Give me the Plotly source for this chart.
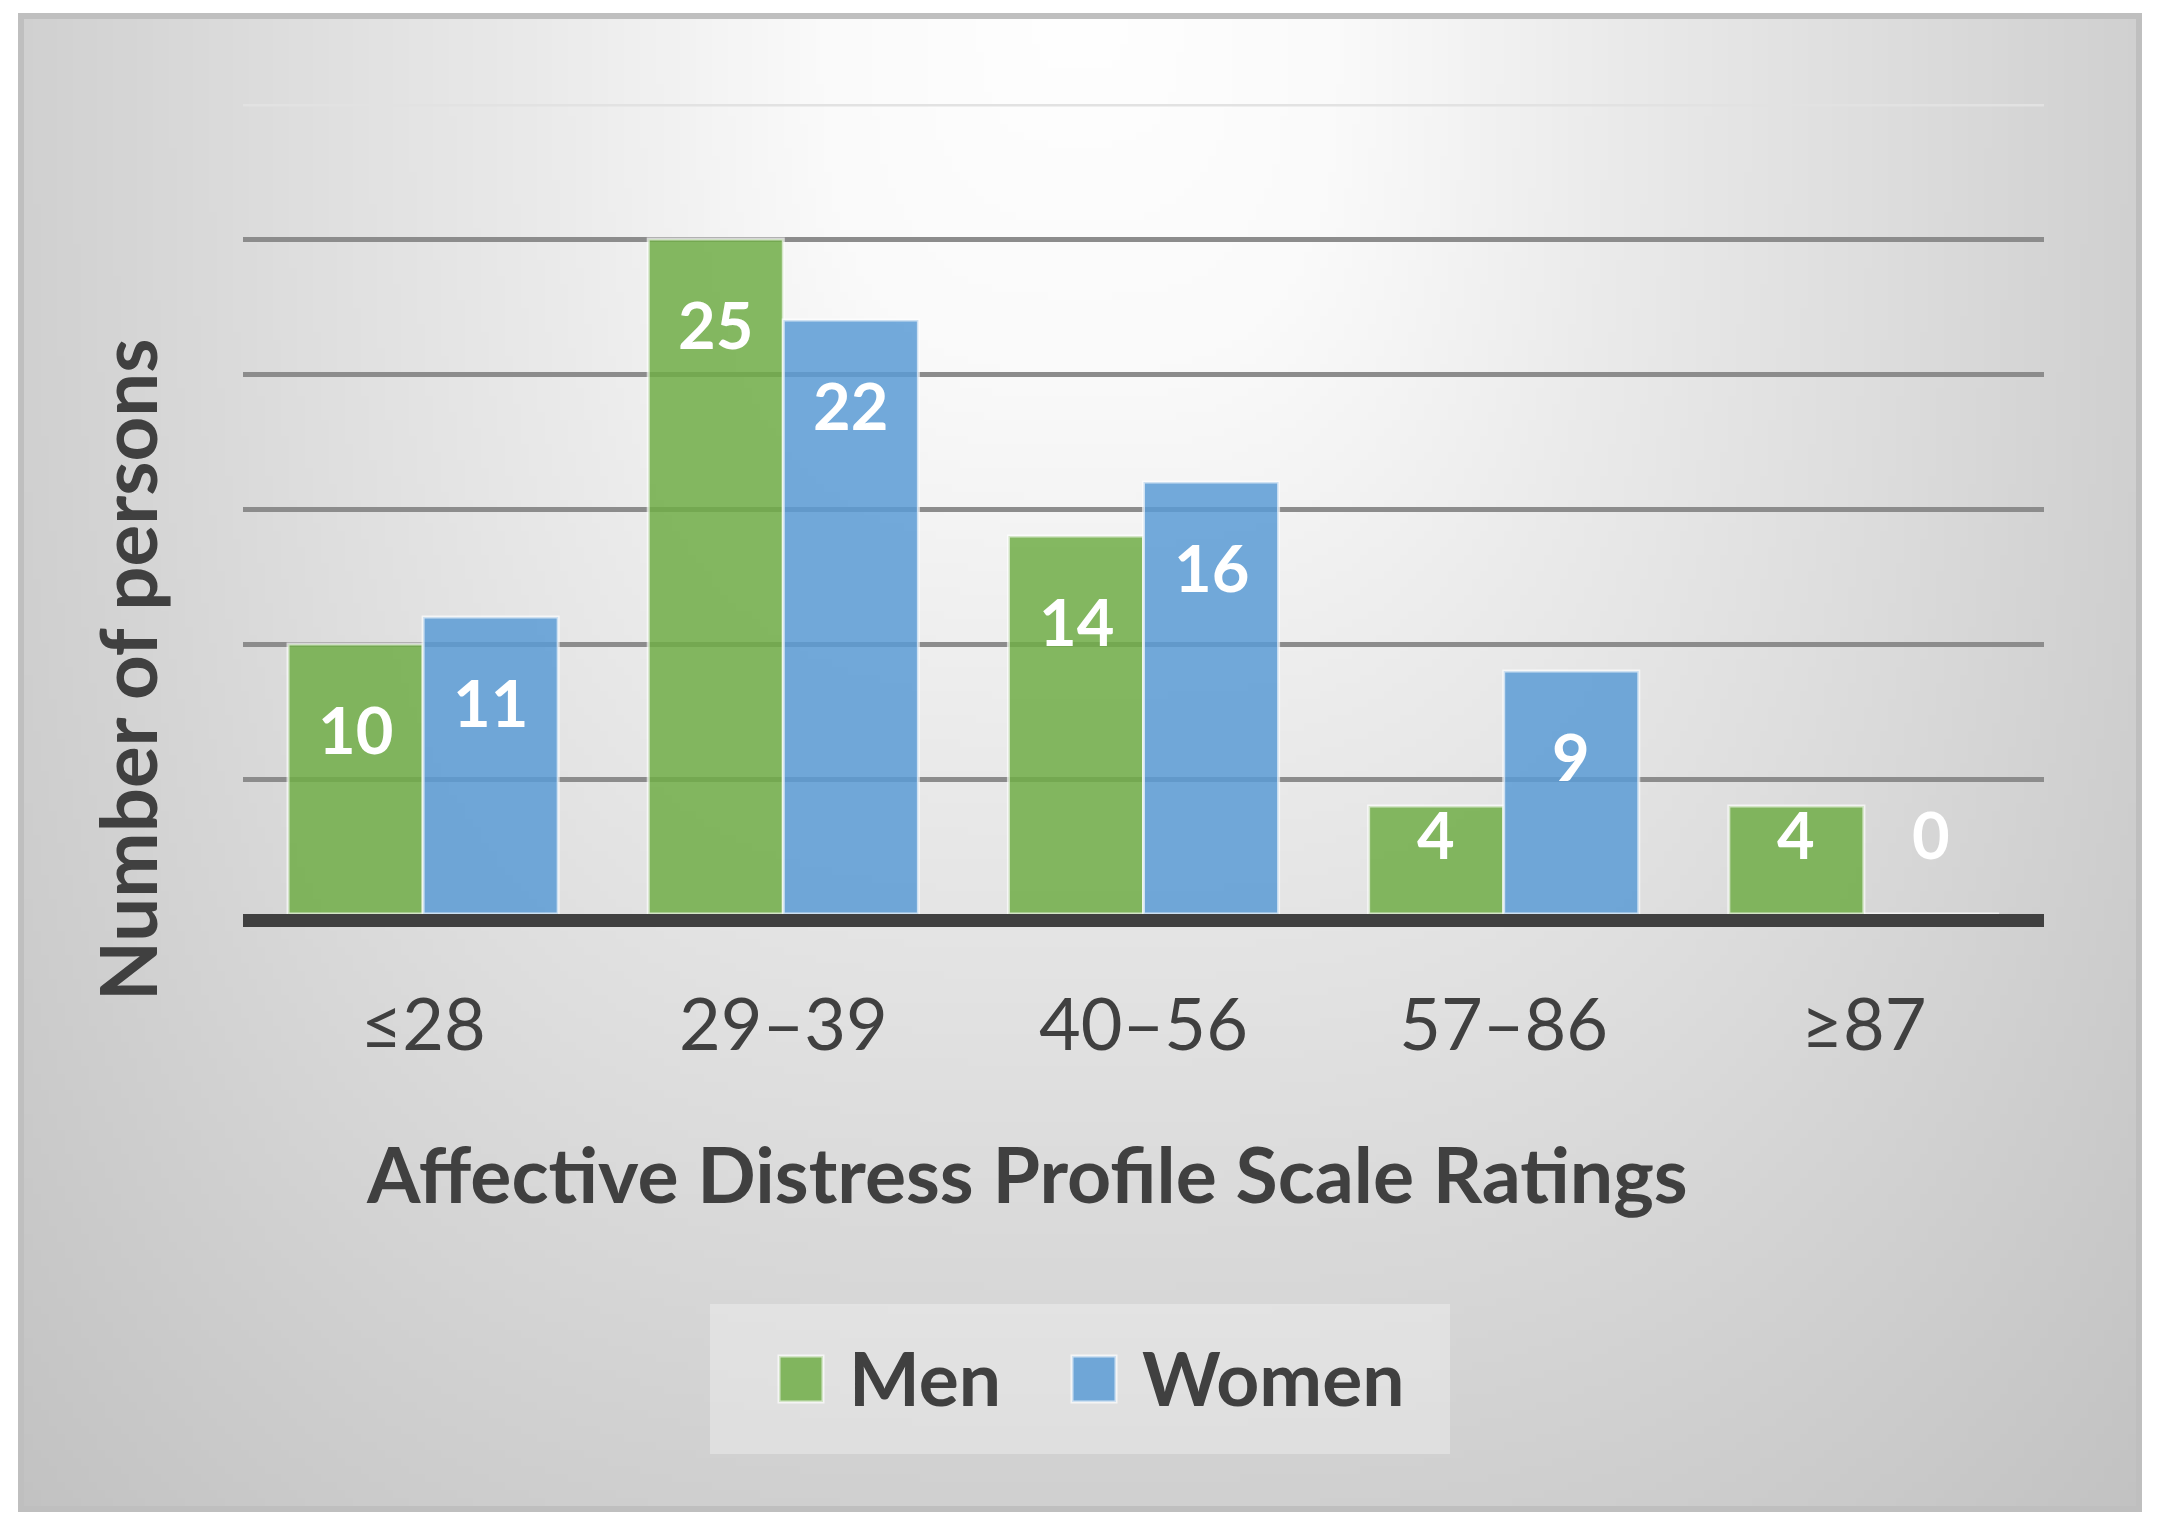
import base64
import struct
import zlib

import numpy as np
import plotly.graph_objects as go

# ---------------- data ----------------
categories = ["≤28", "29–39", "40–56", "57–86", "≥87"]
men = [10, 25, 14, 4, 4]
women = [11, 22, 16, 9, 0]
series_names = ["Men", "Women"]
x_title = "Affective Distress Profile Scale Ratings"
y_title = "Number of persons"

# ---------------- style / geometry (reference pixel space) ----------------
W, H = 2157, 1522
BODY = 8                      # default browser body margin
FONT = "Lato"
DARK = "#404040"
GREEN = "rgba(112,173,71,0.85)"
BLUE = "rgba(91,155,213,0.85)"
EDGE = "rgba(255,255,255,0.65)"
BOX = (21, 16, 2139, 1509)    # chart frame
PL, PT, PR, PB = 243, 104, 2044, 914   # plot area


def px(x):
    return (x - PL) / (PR - PL)


def py(y):
    return (PB - y) / (PB - PT)


# ---------- background gradient as a tiny PNG ----------
def png_gray(arr):
    h, w = arr.shape
    raw = b"".join(b"\x00" + arr[r].tobytes() for r in range(h))

    def chunk(t, d):
        c = struct.pack(">I", len(d)) + t + d
        return c + struct.pack(">I", zlib.crc32(t + d) & 0xFFFFFFFF)

    ihdr = struct.pack(">IIBBBBB", w, h, 8, 0, 0, 0, 0)
    return (b"\x89PNG\r\n\x1a\n" + chunk(b"IHDR", ihdr)
            + chunk(b"IDAT", zlib.compress(raw, 9)) + chunk(b"IEND", b""))


gw, gh = 265, 187
bx0, by0, bx1, by1 = BOX
ii, jj = np.meshgrid(np.arange(gw), np.arange(gh))
X = bx0 + (ii + 0.5) * (bx1 - bx0) / gw
Y = by0 + (jj + 0.5) * (by1 - by0) / gh
pw = 3.0
r = ((np.abs(X - 1080) / 1060) ** pw + (np.abs(Y - 0) / 1500) ** pw) ** (1 / pw)
v = np.interp(r, [0, 0.25, 0.5, 0.75, 0.97, 1.25, 1.6],
              [255, 250, 235, 222, 210, 195, 190])
grad = np.clip(v, 0, 255).astype(np.uint8)
grad_uri = "data:image/png;base64," + base64.b64encode(png_gray(grad)).decode()

# ---------------- figure ----------------
fig = go.Figure()
fig.add_trace(go.Bar(x=categories, y=men, name=series_names[0],
                     marker=dict(color=GREEN, line=dict(color=EDGE, width=3)),
                     hoverinfo="x+y+name"))
fig.add_trace(go.Bar(x=categories, y=women, name=series_names[1],
                     marker=dict(color=BLUE, line=dict(color=EDGE, width=3)),
                     hoverinfo="x+y+name"))

annotations = []
# data labels (inside end of each bar, white bold)
for i, cat in enumerate(categories):
    for vals, shift in ((men, -67.5), (women, 67.5)):
        val = vals[i]
        annotations.append(dict(
            x=cat, y=max(val - 3.15, 2.95), xref="x", yref="y",
            xshift=shift, text=str(val), showarrow=False,
            xanchor="center", yanchor="middle",
            font=dict(family=FONT, size=65, color="white", weight="bold")))

# axis titles
annotations.append(dict(x=px(1027), y=py(1173), xref="paper", yref="paper",
                        text=x_title, showarrow=False, xanchor="center", yanchor="middle",
                        font=dict(family=FONT, size=77, color=DARK, weight="bold")))
annotations.append(dict(x=px(127), y=py(670), xref="paper", yref="paper",
                        text=y_title, showarrow=False, textangle=-90,
                        xanchor="center", yanchor="middle",
                        font=dict(family=FONT, size=78, color=DARK, weight="bold")))

# manual legend
legend_items = [(series_names[0], GREEN, 779, 847), (series_names[1], BLUE, 1072, 1140)]
shapes = [
    # chart frame
    dict(type="rect", xref="paper", yref="paper",
         x0=px(BOX[0]), x1=px(BOX[2]), y0=py(BOX[1]), y1=py(BOX[3]),
         line=dict(color="#bfbfbf", width=6), fillcolor="rgba(0,0,0,0)", layer="below"),
    # top (30) gridline, lighter
    dict(type="line", xref="x domain", yref="y", x0=0, x1=1, y0=30, y1=30,
         line=dict(color="#e2e2e2", width=5), layer="below"),
    # legend box
    dict(type="rect", xref="paper", yref="paper",
         x0=px(710), x1=px(1450), y0=py(1304), y1=py(1454),
         line=dict(width=0), fillcolor="rgba(255,255,255,0.3)", layer="below"),
]
for name, col, sx, tx in legend_items:
    shapes.append(dict(type="rect", xref="paper", yref="paper",
                       x0=px(sx), x1=px(sx + 44), y0=py(1356), y1=py(1402),
                       line=dict(color=EDGE, width=3), fillcolor=col))
    annotations.append(dict(x=px(tx), y=py(1377), xref="paper", yref="paper",
                            text=name, showarrow=False, xanchor="left", yanchor="middle",
                            font=dict(family=FONT, size=75, color=DARK, weight="bold")))

FW, FH = W - BODY, H - BODY
fig.update_layout(
    width=FW, height=FH,
    margin=dict(l=PL - BODY, r=FW - (PR - BODY), t=PT - BODY, b=FH - (PB - BODY), pad=0),
    paper_bgcolor="white",
    plot_bgcolor="rgba(0,0,0,0)",
    barmode="group", bargap=0.25, bargroupgap=0.0,
    showlegend=False,
    font=dict(family=FONT, color=DARK),
    annotations=annotations,
    shapes=shapes,
    images=[dict(source=grad_uri, xref="paper", yref="paper",
                 x=px(BOX[0]), y=py(BOX[1]),
                 sizex=px(BOX[2]) - px(BOX[0]), sizey=py(BOX[1]) - py(BOX[3]),
                 xanchor="left", yanchor="top", sizing="stretch", layer="below")],
    xaxis=dict(
        type="category", showgrid=False, zeroline=False,
        showline=True, linecolor=DARK, linewidth=13,
        ticks="", tickfont=dict(family=FONT, size=72, color=DARK),
        ticklabelstandoff=37,
    ),
    yaxis=dict(
        range=[0, 30], tickvals=[5, 10, 15, 20, 25], showticklabels=False,
        showgrid=True, gridcolor="#8c8c8c", gridwidth=5,
        zeroline=False, showline=False, ticks="",
    ),
)

fig.write_html("out.html")
